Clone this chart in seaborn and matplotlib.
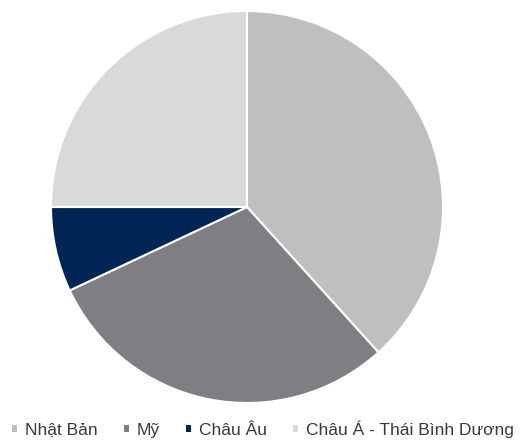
import matplotlib
matplotlib.use("Agg")
import matplotlib.pyplot as plt
from matplotlib.patches import Patch
import seaborn as sns

# Data
regions = ["Nhật Bản", "Mỹ", "Châu Âu", "Châu Á - Thái Bình Dương"]
shares = [38.3, 29.7, 7.0, 25.0]
colors = ["#bfbfbf", "#7f7f83", "#002456", "#d9d9d9"]

sns.set_theme(style="white")
plt.rcParams["font.family"] = ["Liberation Sans", "DejaVu Sans"]

fig = plt.figure(figsize=(5.26, 4.42), dpi=100)
W, H = 526, 442
cx, cy, r = 247, 207, 196
ax = fig.add_axes([(cx - r) / W, (H - cy - r) / H, 2 * r / W, 2 * r / H])

ax.pie(shares, colors=colors, startangle=90, counterclock=False,
       wedgeprops=dict(edgecolor="white", linewidth=1.5))
ax.set_xlim(-1, 1)
ax.set_ylim(-1, 1)
ax.set_aspect("equal")

handles = [Patch(facecolor=c, edgecolor="none") for c in colors]
fig.legend(handles, regions, loc="center", bbox_to_anchor=(0.5, 1 - 429 / H),
           ncol=4, frameon=False, fontsize=12.5, handlelength=0.3,
           handleheight=0.3, handletextpad=0.45, columnspacing=1.5,
           borderpad=0, labelcolor="#3a3a3a")

fig.savefig("out.png", dpi=100)
